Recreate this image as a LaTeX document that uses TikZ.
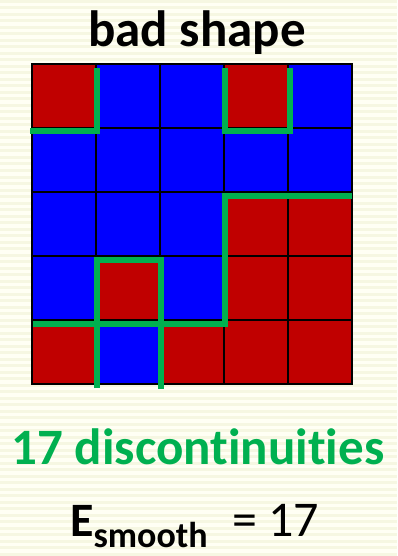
\documentclass[tikz,border=0pt]{standalone}
\usepackage{fontspec}
\setmainfont[Ligatures=NoCommon]{Carlito}
\usetikzlibrary{positioning}
\definecolor{paper}{HTML}{FFFFF4}
\definecolor{stripe}{HTML}{F6F7E2}
\definecolor{cellr}{HTML}{C00000}
\definecolor{cellb}{HTML}{0000FF}
\definecolor{cut}{HTML}{00B050}

\begin{document}
\begin{tikzpicture}[x=1pt,y=-1pt,
  bigtext/.style={inner sep=0pt,anchor=base,font=\fontsize{51}{51}\selectfont\bfseries}]
  % striped paper
  \fill[paper] (0,0) rectangle (397,556);
  \foreach \k in {0,...,85}
    \fill[stripe] (0,\k*6.5) rectangle (397,\k*6.5+3);
  \useasboundingbox (0,0) rectangle (397,556);
  \node[bigtext] (head) at (197,47) {bad shape};
  % labelling grid
  \begin{scope}[shift={(32,64)},x=64pt,y=-64pt]
    \foreach \row/\cols in {0/{r,b,b,r,b},1/{b,b,b,b,b},2/{b,b,b,r,r},3/{b,r,b,r,r},4/{r,b,r,r,r}}
      \foreach \c [count=\col from 0] in \cols
        \fill[fill=cell\c] (\col,\row) rectangle ++(1,1);
    \draw[line width=2pt,step=64pt] (0,0) grid (5,5);
    \draw[line width=2.4pt] (0,0) rectangle (5,5);
  \end{scope}
  % cut edges
  \begin{scope}[cut,line width=6.5pt]
    \draw (30,131) -- (97,131) -- (97,68);
    \draw (225,68) -- (225,131) -- (290,131) -- (290,68);
    \draw (352,196) -- (225,196) -- (225,324) -- (33,324);
    \draw (97,388) -- (97,260) -- (161,260) -- (161,389);
  \end{scope}
  \node[bigtext,text=cut] (count) at (198,464) {17 discontinuities};
  \node[inner sep=0pt,anchor=base west,font=\fontsize{48}{48}\selectfont\bfseries] (esym) at (70,536)
    {E\raisebox{-11pt}{\fontsize{36}{36}\selectfont smooth}};
  \node[inner sep=0pt,anchor=base west,font=\fontsize{50}{50}\selectfont] (eval) at (232,536) {= 17};
\end{tikzpicture}
\end{document}
